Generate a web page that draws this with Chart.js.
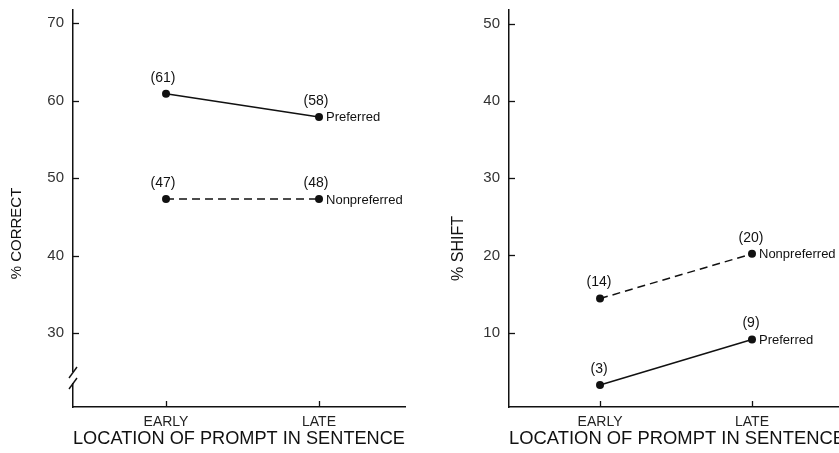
<!DOCTYPE html>
<html><head><meta charset="utf-8">
<script src="https://cdn.jsdelivr.net/npm/chart.js@4.4.1/dist/chart.umd.min.js"></script>
<style>
html,body{margin:0;padding:0;background:#fff;overflow:hidden;width:839px;height:453px;}
#l{position:absolute;left:0;top:0;width:440px;height:453px;}
#r{position:absolute;left:440px;top:0;width:420px;height:453px;}
</style></head><body>
<div id="l"><canvas id="cl"></canvas></div>
<div id="r"><canvas id="cr"></canvas></div>
<script>
const categories = ['EARLY', 'LATE'];
const seriesNames = ['Preferred', 'Nonpreferred'];
const correctPreferred = [60.9, 57.9];
const correctNonpreferred = [47.3, 47.3];
const correctPreferredN = ['(61)', '(58)'];
const correctNonpreferredN = ['(47)', '(48)'];
const shiftPreferred = [3.2, 9.1];
const shiftNonpreferred = [14.4, 20.2];
const shiftPreferredN = ['(3)', '(9)'];
const shiftNonpreferredN = ['(14)', '(20)'];
const correctTicks = [30, 40, 50, 60, 70];
const shiftTicks = [10, 20, 30, 40, 50];

Chart.defaults.font.family = '"Liberation Sans", Arial, Helvetica, sans-serif';
Chart.defaults.color = '#222';

const annot = {
  id: 'annot',
  afterDatasetsDraw(chart, args, o) {
    const ctx = chart.ctx;
    ctx.save();
    chart.data.datasets.forEach((ds, di) => {
      const meta = chart.getDatasetMeta(di);
      meta.data.forEach((el, i) => {
        ctx.fillStyle = '#111';
        ctx.font = '14px "Liberation Sans", Arial, sans-serif';
        ctx.textAlign = 'center';
        ctx.textBaseline = 'middle';
        ctx.fillText(ds.nLabels[i], el.x + o.dx, el.y - 16);
        if (i === meta.data.length - 1) {
          ctx.font = '13px "Liberation Sans", Arial, sans-serif';
          ctx.textAlign = 'left';
          ctx.fillText(ds.label, el.x + 7, el.y + 1);
        }
      });
    });
    ctx.restore();
  },
  afterDraw(chart, args, o) {
    const ctx = chart.ctx;
    const a = chart.chartArea;
    const ys = chart.scales.y, xs = chart.scales.x;
    ctx.save();
    ctx.strokeStyle = '#111';
    ctx.lineWidth = 1.3;
    ys.ticks.forEach(t => {
      const y = Math.round(ys.getPixelForValue(t.value)) + 0.5;
      ctx.beginPath(); ctx.moveTo(a.left, y); ctx.lineTo(a.left + 6, y); ctx.stroke();
    });
    xs.ticks.forEach(t => {
      const x = Math.round(xs.getPixelForValue(t.value)) + 0.5;
      ctx.beginPath(); ctx.moveTo(x, a.bottom); ctx.lineTo(x, a.bottom - 6); ctx.stroke();
    });
    if (o.brk) {
      const x = a.left;
      ctx.fillStyle = '#fff';
      ctx.fillRect(x - 3, 372, 6, 11);
      ctx.lineWidth = 1.4;
      ctx.beginPath(); ctx.moveTo(x - 4, 378); ctx.lineTo(x + 4, 367); ctx.stroke();
      ctx.beginPath(); ctx.moveTo(x - 4, 389); ctx.lineTo(x + 4, 378); ctx.stroke();
    }
    ctx.restore();
  }
};

function makeChart(id, cfg) {
  const toPts = arr => arr.map((v, i) => ({x: i, y: v}));
  const axisBorder = {display: true, color: '#111', width: 1.5};
  const noGrid = {display: false, drawTicks: false, tickLength: 0};
  return new Chart(document.getElementById(id), {
    type: 'line',
    data: {
      datasets: [
        {label: seriesNames[0], data: toPts(cfg.pref), nLabels: cfg.prefN,
         borderColor: '#111', backgroundColor: '#111', borderWidth: 1.5,
         pointRadius: 4, pointBorderWidth: 0, pointBackgroundColor: '#111'},
        {label: seriesNames[1], data: toPts(cfg.non), nLabels: cfg.nonN,
         borderColor: '#111', backgroundColor: '#111', borderWidth: 1.5, borderDash: [8, 5],
         pointRadius: 4, pointBorderWidth: 0, pointBackgroundColor: '#111'}
      ]
    },
    options: {
      responsive: true, maintainAspectRatio: false, animation: false,
      layout: {padding: {top: 10, right: cfg.padRight, left: 0, bottom: 0}},
      plugins: {legend: {display: false}, tooltip: {enabled: false},
                annot: {dx: cfg.dx, brk: cfg.brk}},
      scales: {
        x: {
          type: 'linear', min: cfg.xmin, max: cfg.xmax,
          afterBuildTicks: s => { s.ticks = categories.map((c, i) => ({value: i})); },
          ticks: {callback: v => categories[v], font: {size: 14}, color: '#222', padding: 7,
                  autoSkip: false, maxRotation: 0},
          grid: noGrid, border: axisBorder,
          title: {display: true, text: 'LOCATION OF PROMPT IN SENTENCE', font: {size: 18.5},
                  color: '#111', padding: {top: 0, bottom: 3}},
          afterFit: s => { s.height = 46; s.paddingLeft = 0; s.paddingRight = 0; }
        },
        y: {
          type: 'linear', min: cfg.ymin, max: cfg.ymax,
          afterBuildTicks: s => { s.ticks = cfg.ticks.map(v => ({value: v})); },
          ticks: {font: {size: 15}, color: '#333', padding: 9},
          grid: noGrid, border: axisBorder,
          title: {display: true, text: cfg.title + '\u00a0'.repeat(cfg.shift), font: {size: cfg.titleSize},
                  color: '#111', padding: {top: cfg.titlePad, bottom: 0}},
          afterFit: s => { s.width = cfg.yWidth; s.paddingTop = 0; s.paddingBottom = 0; }
        }
      }
    },
    plugins: [annot]
  });
}

makeChart('cl', {
  pref: correctPreferred, non: correctNonpreferred,
  prefN: correctPreferredN, nonN: correctNonpreferredN,
  ticks: correctTicks, ymin: 20.45, ymax: 71.7, xmin: -0.608, xmax: 1.562,
  padRight: 35, yWidth: 73, title: '% CORRECT', titleSize: 15, shift: 12, titlePad: 8, dx: -3, brk: true
});
makeChart('cr', {
  pref: shiftPreferred, non: shiftNonpreferred,
  prefN: shiftPreferredN, nonN: shiftNonpreferredN,
  ticks: shiftTicks, ymin: 0.35, ymax: 51.8, xmin: -0.599, xmax: 1.612,
  padRight: 15, yWidth: 69, title: '% SHIFT', titleSize: 16, shift: 18, titlePad: 9, dx: -1, brk: false
});
</script>
</body></html>
